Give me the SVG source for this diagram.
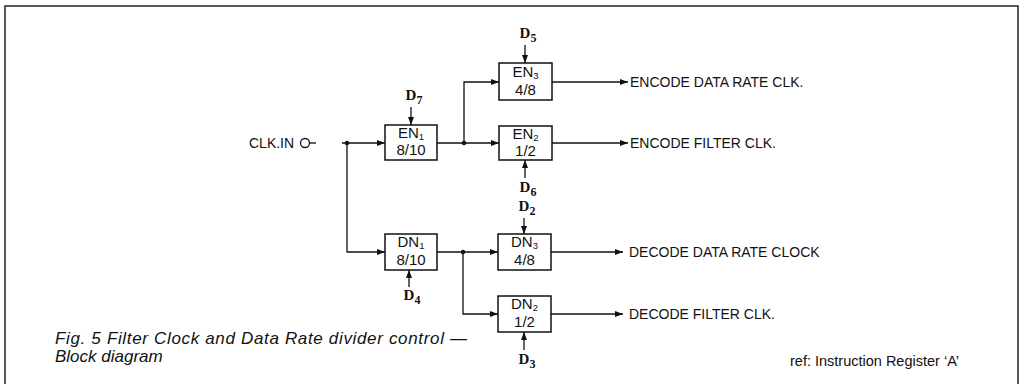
<svg xmlns="http://www.w3.org/2000/svg" width="1024" height="384" viewBox="0 0 1024 384">
<defs>
<marker id="arr" markerUnits="userSpaceOnUse" markerWidth="9" markerHeight="6" refX="8" refY="3" orient="auto">
<path d="M0,0 L8,3 L0,6 Z" fill="#111"/>
</marker>
<style>
.bg{fill:#fff}
.frame{fill:none;stroke:#222;stroke-width:1.5}
.box{fill:#fff;stroke:#111;stroke-width:1.5}
.ln{fill:none;stroke:#111;stroke-width:1.3}
.ar{fill:none;stroke:#111;stroke-width:1.3;marker-end:url(#arr)}
.dot{fill:#111}
.t{font-family:"Liberation Sans",Arial,sans-serif;font-size:14px;fill:#111}
.bt{font-family:"Liberation Sans",Arial,sans-serif;font-size:15px;fill:#111;text-anchor:middle}
.sub{font-size:9.5px}
.d{font-family:"Liberation Serif","Times New Roman",serif;font-weight:bold;font-size:15px;fill:#111;text-anchor:middle}
.dsub{font-size:12px}
.cap{font-family:"Liberation Sans",Arial,sans-serif;font-style:italic;font-size:17px;fill:#111}
.ref{font-family:"Liberation Sans",Arial,sans-serif;font-size:14.5px;fill:#111}
</style>
</defs>
<rect class="bg" x="0" y="0" width="1024" height="384"/>
<rect class="frame" x="5" y="6" width="1013" height="400"/>

<g id="clkin">
<text class="t" x="249" y="148">CLK.IN</text>
<circle cx="305" cy="143" r="4.5" fill="#fff" stroke="#111" stroke-width="1.3"/>
</g>

<g id="connectors">
<line class="ln" x1="309.5" y1="143" x2="316" y2="143"/>
<line class="ar" x1="342" y1="143" x2="385" y2="143"/>
<circle class="dot" cx="347" cy="143" r="2.2"/>
<polyline class="ar" points="347,143 347,252 385,252"/>
<line class="ar" x1="437" y1="143" x2="499" y2="143"/>
<circle class="dot" cx="464" cy="143" r="2.2"/>
<polyline class="ar" points="464,143 464,82 499,82"/>
<line class="ar" x1="552" y1="82" x2="628" y2="82"/>
<line class="ar" x1="552" y1="143" x2="628" y2="143"/>
<line class="ar" x1="437" y1="252" x2="498" y2="252"/>
<circle class="dot" cx="463" cy="252" r="2.2"/>
<polyline class="ar" points="463,252 463,314 498,314"/>
<line class="ar" x1="551" y1="252" x2="623" y2="252"/>
<line class="ar" x1="551" y1="314" x2="623" y2="314"/>
<line class="ar" x1="411" y1="107" x2="411" y2="125"/>
<line class="ar" x1="525" y1="45" x2="525" y2="63"/>
<line class="ar" x1="525" y1="178" x2="525" y2="160"/>
<line class="ar" x1="524" y1="218" x2="524" y2="234"/>
<line class="ar" x1="409" y1="287" x2="409" y2="270"/>
<line class="ar" x1="524" y1="350" x2="524" y2="332"/>
</g>

<g id="en1">
<rect class="box" x="385" y="125" width="52" height="35"/>
<text class="bt" x="411" y="138">EN<tspan class="sub" dy="2">1</tspan></text>
<text class="bt" x="411" y="155">8/10</text>
</g>
<g id="en3">
<rect class="box" x="499" y="63" width="53" height="37"/>
<text class="bt" x="525.5" y="77">EN<tspan class="sub" dy="2">3</tspan></text>
<text class="bt" x="525.5" y="95">4/8</text>
</g>
<g id="en2">
<rect class="box" x="499" y="126" width="53" height="34"/>
<text class="bt" x="525.5" y="139">EN<tspan class="sub" dy="2">2</tspan></text>
<text class="bt" x="525.5" y="156">1/2</text>
</g>
<g id="dn1">
<rect class="box" x="385" y="234" width="52" height="36"/>
<text class="bt" x="411" y="247">DN<tspan class="sub" dy="2">1</tspan></text>
<text class="bt" x="411" y="265">8/10</text>
</g>
<g id="dn3">
<rect class="box" x="498" y="234" width="53" height="36"/>
<text class="bt" x="524.5" y="247">DN<tspan class="sub" dy="2">3</tspan></text>
<text class="bt" x="524.5" y="265">4/8</text>
</g>
<g id="dn2">
<rect class="box" x="498" y="296" width="53" height="36"/>
<text class="bt" x="524.5" y="309">DN<tspan class="sub" dy="2">2</tspan></text>
<text class="bt" x="524.5" y="327">1/2</text>
</g>

<g id="dlabels">
<text class="d" x="414" y="100">D<tspan class="dsub" dy="4">7</tspan></text>
<text class="d" x="528" y="38">D<tspan class="dsub" dy="4">5</tspan></text>
<text class="d" x="528" y="192">D<tspan class="dsub" dy="4">6</tspan></text>
<text class="d" x="527" y="211">D<tspan class="dsub" dy="4">2</tspan></text>
<text class="d" x="412" y="300">D<tspan class="dsub" dy="4">4</tspan></text>
<text class="d" x="527" y="364">D<tspan class="dsub" dy="4">3</tspan></text>
</g>

<g id="outputs">
<text class="t" x="630" y="87">ENCODE DATA RATE CLK.</text>
<text class="t" x="630" y="148">ENCODE FILTER CLK.</text>
<text class="t" x="629" y="257">DECODE DATA RATE CLOCK</text>
<text class="t" x="629" y="319">DECODE FILTER CLK.</text>
</g>

<g id="caption">
<text class="cap" x="55" y="344" textLength="412" lengthAdjust="spacing">Fig. 5 Filter Clock and Data Rate divider control —</text>
<text class="cap" x="55" y="362">Block diagram</text>
<text class="ref" x="790" y="366">ref: Instruction Register ‘A’</text>
</g>
</svg>
